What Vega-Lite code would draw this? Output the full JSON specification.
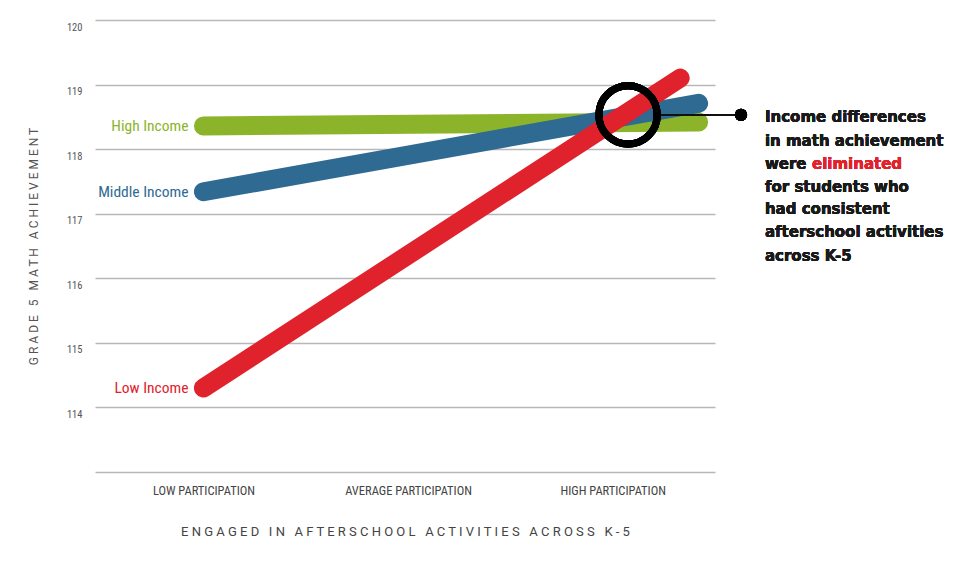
{
  "$schema": "https://vega.github.io/schema/vega-lite/v6.json",
  "width": 620,
  "height": 452,
  "autosize": {"type": "none"},
  "padding": {"left": 95, "top": 20, "right": 239, "bottom": 99},
  "background": "white",
  "config": {
    "view": {"stroke": null},
    "font": "DejaVu Sans Condensed, Roboto, sans-serif"
  },
  "data": {
    "values": [
      {"income": "High Income", "participation": 1, "score": 118.36},
      {"income": "High Income", "participation": 3.42, "score": 118.42},
      {"income": "Middle Income", "participation": 1, "score": 117.34},
      {"income": "Middle Income", "participation": 3.42, "score": 118.71},
      {"income": "Low Income", "participation": 1, "score": 114.3},
      {"income": "Low Income", "participation": 3.33, "score": 119.1}
    ]
  },
  "encoding": {
    "x": {
      "field": "participation",
      "type": "quantitative",
      "scale": {"domain": [0.47, 3.5], "nice": false, "zero": false},
      "axis": {
        "values": [1, 2, 3],
        "labelExpr": "datum.value == 1 ? 'LOW PARTICIPATION' : datum.value == 2 ? 'AVERAGE PARTICIPATION' : 'HIGH PARTICIPATION'",
        "grid": false,
        "domain": false,
        "ticks": false,
        "labelPadding": 12,
        "labelFontSize": 12.5,
        "labelColor": "#444",
        "labelFont": "Roboto Condensed, Roboto, sans-serif",
        "title": "E N G A G E D \u00a0 I N \u00a0 A F T E R S C H O O L \u00a0 A C T I V I T I E S \u00a0 A C R O S S \u00a0 K - 5",
        "titleFont": "Roboto, sans-serif",
        "titleFontSize": 13,
        "titleFontWeight": "normal",
        "titleColor": "#444",
        "titlePadding": 29
      }
    },
    "y": {
      "field": "score",
      "type": "quantitative",
      "scale": {"domain": [113, 120], "nice": false, "zero": false},
      "axis": {
        "values": [113, 114, 115, 116, 117, 118, 119, 120],
        "labelExpr": "datum.value == 113 ? '' : datum.label",
        "grid": true,
        "gridColor": "#b8b8b8",
        "gridWidth": 1.5,
        "domain": false,
        "ticks": false,
        "labelPadding": 13,
        "labelOffset": 7,
        "labelFontSize": 10.5,
        "labelColor": "#555",
        "labelFont": "Roboto Condensed, Roboto, sans-serif",
        "title": "G R A D E \u00a0 5 \u00a0 M A T H \u00a0 A C H I E V E M E N T",
        "titleFont": "Roboto, sans-serif",
        "titleFontSize": 12,
        "titleFontWeight": "normal",
        "titleColor": "#555",
        "titlePadding": 26
      }
    }
  },
  "layer": [
    {
      "mark": {"type": "line", "strokeWidth": 19, "strokeCap": "round"},
      "encoding": {
        "color": {
          "field": "income",
          "type": "nominal",
          "scale": {"domain": ["High Income", "Middle Income", "Low Income"], "range": ["#8cb42a", "#2e6a92", "#e0222c"]},
          "legend": null
        }
      }
    },
    {
      "transform": [{"filter": "datum.participation < 2"}],
      "mark": {"type": "text", "align": "right", "baseline": "middle", "dx": -15, "fontSize": 15.5, "font": "Roboto Condensed, Roboto, sans-serif"},
      "encoding": {
        "text": {"field": "income"},
        "color": {
          "field": "income",
          "type": "nominal",
          "scale": {"domain": ["High Income", "Middle Income", "Low Income"], "range": ["#a8c63e", "#3f7599", "#d8374c"]},
          "legend": null
        }
      }
    },
    {
      "mark": {"type": "rule", "color": "#111", "strokeWidth": 2},
      "encoding": {
        "x": {"datum": 3.231},
        "x2": {"datum": 3.627},
        "y": {"datum": 118.53}
      }
    },
    {
      "mark": {"type": "point", "shape": "circle", "filled": true, "color": "#000", "size": 150, "opacity": 1},
      "encoding": {
        "x": {"datum": 3.627},
        "y": {"datum": 118.53}
      }
    },
    {
      "mark": {"type": "point", "shape": "circle", "filled": false, "color": "#000", "size": 3400, "strokeWidth": 7, "opacity": 1},
      "encoding": {
        "x": {"datum": 3.075},
        "y": {"datum": 118.53}
      }
    },
    {
      "mark": {"type": "text", "align": "left", "baseline": "middle", "font": "DejaVu Sans", "fontWeight": "bold", "fontSize": 15, "color": "#1a1a1a"},
      "encoding": {
        "x": {"datum": 3.744},
        "y": {"datum": 118.5},
        "text": {"value": "Income differences"}
      }
    },
    {
      "mark": {"type": "text", "align": "left", "baseline": "middle", "font": "DejaVu Sans", "fontWeight": "bold", "fontSize": 15, "color": "#1a1a1a"},
      "encoding": {
        "x": {"datum": 3.744},
        "y": {"datum": 118.13},
        "text": {"value": "in math achievement"}
      }
    },
    {
      "mark": {"type": "text", "align": "left", "baseline": "middle", "font": "DejaVu Sans", "fontWeight": "bold", "fontSize": 15, "color": "#1a1a1a"},
      "encoding": {
        "x": {"datum": 3.744},
        "y": {"datum": 117.77},
        "text": {"value": "were"}
      }
    },
    {
      "mark": {"type": "text", "align": "left", "baseline": "middle", "font": "DejaVu Sans", "fontWeight": "bold", "fontSize": 15, "color": "#e0222c"},
      "encoding": {
        "x": {"datum": 3.974},
        "y": {"datum": 117.77},
        "text": {"value": "eliminated"}
      }
    },
    {
      "mark": {"type": "text", "align": "left", "baseline": "middle", "font": "DejaVu Sans", "fontWeight": "bold", "fontSize": 15, "color": "#1a1a1a"},
      "encoding": {
        "x": {"datum": 3.744},
        "y": {"datum": 117.41},
        "text": {"value": "for students who"}
      }
    },
    {
      "mark": {"type": "text", "align": "left", "baseline": "middle", "font": "DejaVu Sans", "fontWeight": "bold", "fontSize": 15, "color": "#1a1a1a"},
      "encoding": {
        "x": {"datum": 3.744},
        "y": {"datum": 117.07},
        "text": {"value": "had consistent"}
      }
    },
    {
      "mark": {"type": "text", "align": "left", "baseline": "middle", "font": "DejaVu Sans", "fontWeight": "bold", "fontSize": 15, "color": "#1a1a1a"},
      "encoding": {
        "x": {"datum": 3.744},
        "y": {"datum": 116.72},
        "text": {"value": "afterschool activities"}
      }
    },
    {
      "mark": {"type": "text", "align": "left", "baseline": "middle", "font": "DejaVu Sans", "fontWeight": "bold", "fontSize": 15, "color": "#1a1a1a"},
      "encoding": {
        "x": {"datum": 3.744},
        "y": {"datum": 116.35},
        "text": {"value": "across K-5"}
      }
    }
  ]
}
